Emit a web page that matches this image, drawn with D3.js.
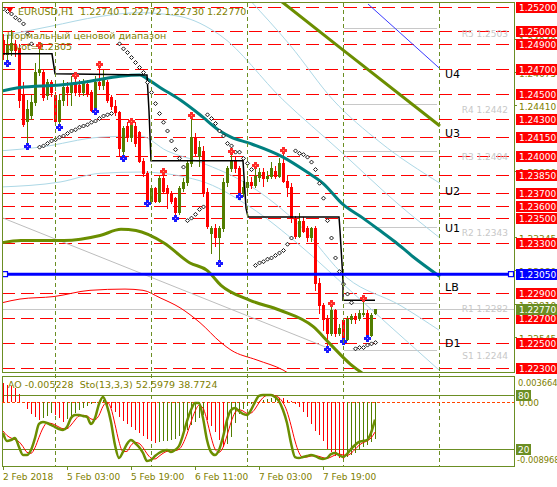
<!DOCTYPE html>
<html><head><meta charset="utf-8">
<script src="https://cdn.jsdelivr.net/npm/d3@7/dist/d3.min.js"></script>
<style>html,body{margin:0;padding:0;background:#fff;overflow:hidden}</style>
</head><body>
<script>
// ---------- DATA ----------
const opens=[
1.2493,1.2482,1.2485,1.2490,1.2487,1.2449,1.2428,1.2433,1.2443,1.2467,
1.2467,1.2449,1.2459,1.2449,1.2428,1.2445,1.2455,1.2451,1.2459,1.2457,
1.2451,1.2458,1.2451,1.2437,1.2459,1.2457,1.2459,1.2447,1.2440,1.2435,
1.2404,1.2424,1.2415,1.2424,1.2419,1.2396,1.2386,1.2364,1.2374,1.2364,
1.2382,1.2374,1.2370,1.2366,1.2355,1.2374,1.2379,1.2394,1.2415,1.2400,
1.2404,1.2371,1.2338,1.2342,1.2335,1.2342,1.2379,1.2390,1.2397,1.2390,
1.2370,1.2375,1.2379,1.2377,1.2383,1.2387,1.2382,1.2384,1.2388,1.2384,
1.2394,1.2380,1.2375,1.2350,1.2336,1.2348,1.2342,1.2335,1.2342,1.2298,
1.2280,1.2269,1.2258,1.2276,1.2258,1.2268,1.2253,1.2269,1.2271,1.2270,
1.2273,1.2274,1.2256,1.22740];
const highs=[
1.2498,1.2497,1.2501,1.2493,1.2490,1.2459,1.2445,1.2449,1.2475,1.2489,
1.2470,1.2462,1.2461,1.2451,1.2449,1.2461,1.2459,1.2464,1.2465,1.2461,
1.2462,1.2461,1.2453,1.2464,1.2474,1.2469,1.2461,1.2449,1.2445,1.2436,
1.2424,1.2427,1.2428,1.2427,1.2420,1.2398,1.2388,1.2376,1.2375,1.2384,
1.2388,1.2377,1.2372,1.2367,1.2376,1.2382,1.2396,1.2433,1.2418,1.2412,
1.2408,1.2374,1.2344,1.2345,1.2344,1.2382,1.2392,1.2404,1.2400,1.2392,
1.2380,1.2384,1.2383,1.2393,1.2390,1.2390,1.2388,1.2395,1.2392,1.2398,
1.2405,1.2384,1.2378,1.2352,1.2354,1.2351,1.2344,1.2343,1.2344,1.2302,
1.2282,1.2272,1.2282,1.2277,1.2265,1.2270,1.2271,1.2273,1.2274,1.2276,
1.2286,1.2276,1.2274,1.22772];
const lows=[
1.2478,1.2475,1.2481,1.2480,1.2439,1.2424,1.2408,1.2430,1.2441,1.2465,
1.2445,1.2446,1.2448,1.2427,1.2423,1.2441,1.2441,1.2441,1.2449,1.2448,
1.2449,1.2448,1.2436,1.2436,1.2454,1.2454,1.2443,1.2438,1.2433,1.2400,
1.2398,1.2412,1.2412,1.2408,1.2395,1.2384,1.2362,1.2362,1.2363,1.2363,
1.2370,1.2358,1.2362,1.2350,1.2353,1.2372,1.2377,1.2392,1.2400,1.2392,
1.2368,1.2342,1.2322,1.2328,1.2314,1.2340,1.2376,1.2388,1.2387,1.2368,
1.2368,1.2372,1.2374,1.2375,1.2380,1.2376,1.2380,1.2382,1.2382,1.2383,
1.2379,1.2368,1.2347,1.2334,1.2335,1.2339,1.2332,1.2332,1.2292,1.2274,
1.2260,1.2245,1.2256,1.2255,1.2256,1.2251,1.2252,1.2266,1.2266,1.2268,
1.2271,1.2254,1.2255,1.22730];
const closes=[
1.2482,1.2489,1.2491,1.2485,1.2445,1.2426,1.2438,1.2443,1.2467,1.2470,
1.2447,1.2459,1.2451,1.2428,1.2445,1.2455,1.2451,1.2457,1.2451,1.2451,
1.2459,1.2450,1.2437,1.2459,1.2457,1.2461,1.2445,1.2440,1.2435,1.2406,
1.2422,1.2415,1.2427,1.2410,1.2396,1.2386,1.2364,1.2374,1.2364,1.2382,
1.2372,1.2370,1.2364,1.2355,1.2374,1.2379,1.2394,1.2415,1.2402,1.2407,
1.2371,1.2344,1.2342,1.2335,1.2342,1.2379,1.2390,1.2397,1.2390,1.2370,
1.2375,1.2379,1.2377,1.2384,1.2387,1.2382,1.2384,1.2390,1.2384,1.2394,
1.2380,1.2375,1.2350,1.2336,1.2348,1.2340,1.2335,1.2342,1.2298,1.2280,
1.2269,1.2258,1.2276,1.2258,1.2262,1.2253,1.2269,1.2271,1.2269,1.2274,
1.2274,1.2256,1.2272,1.22770];
const upFractals=[9,18,24,32,40,47,57,63,70,82,90];
const downFractals=[1,6,14,23,30,36,43,54,59,81,85,91];
const sar=[
1.2518,1.2516,1.2514,1.2511,1.2509,1.2506,1.2498,1.2490,null,1.2407,
1.2408,1.2410,1.2412,1.2413,1.2415,1.2416,1.2418,1.2420,1.2421,1.2423,
1.2424,1.2425,1.2427,1.2428,1.2430,1.2432,1.2433,1.2434,null,1.2490,
1.2486,1.2483,1.2479,1.2475,1.2471,1.2467,1.2459,1.2451,1.2442,1.2434,
1.2427,1.2420,1.2412,1.2405,1.2398,1.2391,1.2348,1.2350,1.2353,1.2357,
1.2359,1.2433,1.2430,1.2426,1.2420,1.2416,1.2410,1.2408,1.2403,1.2403,
1.2398,1.2394,1.2389,1.2312,1.2314,1.2315,1.2317,1.2318,1.2320,1.2322,
1.2324,1.2329,1.2334,1.2404,1.2402,1.2401,1.2399,1.2395,1.2389,1.2378,
1.2366,1.2348,1.2334,1.2318,1.2307,1.2297,1.2289,1.2282,1.2245,1.2246,
1.2246,1.2248,1.2249,1.2250];
const ao=[
0.00266,0.00238,0.00224,0.00196,0.00112,0.00000,-0.00098,-0.00168,-0.00210,-0.00252,
-0.00224,-0.00196,-0.00154,-0.00182,-0.00224,-0.00280,-0.00238,-0.00196,-0.00154,-0.00112,
-0.00084,-0.00056,-0.00028,-0.00014,0.00014,0.00028,-0.00042,-0.00084,-0.00140,-0.00210,
-0.00266,-0.00308,-0.00350,-0.00392,-0.00434,-0.00476,-0.00518,-0.00546,-0.00574,-0.00560,
-0.00546,-0.00539,-0.00532,-0.00518,-0.00476,-0.00434,-0.00392,-0.00322,-0.00280,-0.00224,
-0.00182,-0.00252,-0.00336,-0.00420,-0.00532,-0.00630,-0.00588,-0.00490,-0.00294,-0.00168,
-0.00098,-0.00056,-0.00028,0.00000,0.00014,0.00028,0.00042,0.00056,0.00070,0.00063,
0.00056,0.00028,0.00014,-0.00028,-0.00070,-0.00140,-0.00210,-0.00308,-0.00406,-0.00462,
-0.00546,-0.00658,-0.00700,-0.00757,-0.00785,-0.00799,-0.00771,-0.00743,-0.00715,-0.00673,
-0.00630,-0.00602,-0.00560,-0.005228];
const stochMain=[
37.8,28.9,30.0,32.2,22.2,13.3,13.3,18.9,32.2,47.8,
50.0,48.9,46.7,44.4,42.2,41.1,44.4,54.4,57.8,57.8,
56.7,55.6,47.8,54.4,70.0,77.8,67.8,50.0,24.4,10.0,
16.7,25.6,30.0,26.7,22.2,15.6,6.7,7.8,12.2,15.6,
17.8,18.9,16.7,18.9,23.3,35.6,51.1,63.3,71.1,71.1,
54.4,30.0,16.7,13.3,18.9,33.3,52.2,63.3,65.6,62.2,
58.9,57.8,63.3,72.2,78.9,80.0,80.0,80.0,77.8,73.3,
63.3,48.9,26.7,11.1,10.0,11.1,12.2,13.3,12.2,10.0,
8.9,10.0,14.4,15.6,13.3,11.1,14.4,20.0,24.4,27.8,
28.9,30.0,37.8,52.5979];
const stochSignal=[
40.0,35.0,32.2,30.4,28.1,22.6,16.3,15.2,21.5,33.0,
43.3,48.9,48.5,46.7,44.4,42.6,42.6,46.6,52.2,56.7,
57.4,56.7,53.4,52.6,57.4,67.4,71.9,65.2,47.4,28.1,
17.0,17.4,24.1,27.4,26.3,21.5,14.8,10.0,8.9,11.9,
15.2,17.4,17.8,18.2,19.6,25.9,36.7,50.0,61.8,68.5,
65.5,51.8,33.7,20.0,16.3,21.8,34.8,49.6,60.4,63.7,
62.2,59.6,60.0,64.4,71.5,77.0,79.6,80.0,79.3,77.0,
71.5,61.8,46.3,28.9,15.9,10.7,11.1,12.2,12.6,11.8,
10.4,9.6,11.1,13.3,14.4,13.3,12.9,15.2,19.6,24.1,
27.0,28.9,32.2,38.7724];
const levels=[1.2520,1.2500,1.2490,1.2470,1.2450,1.2430,1.2415,1.2400,1.2385,1.2370,1.2360,1.2350,1.2330,1.2290,1.2270,1.2250,1.2230];
const axisTicks=[1.24940,1.24675,1.24410,1.23880,1.23345,1.23080,1.22810,1.22545];
const pivots=[["R5",1.2503],["R4",1.2442],["R3",1.2404],["R2",1.2343],["R1",1.2282],["S1",1.2244]];
const zoneLabels=[["U4",1.2466],["U3",1.2418],["U2",1.2372],["U1",1.2342],["LB",1.2295],["D1",1.2250]];
const pivotPrice=1.2305;
const bidPrice=1.2277;
const dateTicks=[[0,"2 Feb 2018"],[16,"5 Feb 03:00"],[32,"5 Feb 19:00"],[48,"6 Feb 11:00"],[64,"7 Feb 03:00"],[80,"7 Feb 19:00"]];
const daySeparators=[13,37,61,85,109];
const aoMax=0.003664, aoMin=-0.008968;
const stLevels=[80,20];
// indicator lines: [bar index, price]
const maTeal=[[-0.25,1.2452],[4.25,1.2455],[14.25,1.2457],[21.75,1.2460],[29.25,1.2464],[34.25,1.2465],[36,1.2462],[39.25,1.2455],[44.25,1.2445],[49.25,1.2433],[54.25,1.2420],[57,1.2415],[61.75,1.2410],[70,1.2399],[76,1.2387],[80,1.2378],[85,1.2361],[90,1.2350],[94.25,1.2340],[98,1.2331],[102.5,1.2319],[109.25,1.2303]];
const maOlive=[[-0.75,1.2330],[4.5,1.2332],[15.25,1.2332],[24.25,1.2336],[29.5,1.2341],[33.25,1.2340],[40.25,1.2330],[46.75,1.2314],[51,1.2308],[54.5,1.2296],[61.75,1.2284],[69.25,1.2276],[77.5,1.2263],[81.75,1.2249],[86.75,1.2233],[90,1.2225],[93,1.2218]];
const maRed=[[-0.25,1.2282],[4.25,1.2285],[12.75,1.2287],[21.75,1.2292],[30.5,1.2293],[35,1.2292],[39.25,1.2286],[44.25,1.2278],[49.25,1.2266],[54.5,1.2250],[57,1.2244],[63.5,1.2236],[70,1.2228],[73,1.2222]];
const grayLine=[[-0.75,1.2351],[81.75,1.2245]];
const oliveTR=[[69.25,1.2525],[84.25,1.2487],[109.25,1.2424]];
const blueTR=[[91.25,1.2522],[109.25,1.2470]];
const lbA=[[-0.75,1.2496],[11.75,1.2504],[24.25,1.2512],[34.25,1.2515],[44.25,1.2512],[54.25,1.2497],[70,1.2445],[84.25,1.2404],[99.25,1.2360],[109.25,1.2334]];
const lbC=[[61.75,1.2525],[71.75,1.2489],[82.5,1.2445],[94.25,1.2411],[109.25,1.2378]];
const lbQ=[[-0.75,1.2404],[9.25,1.2407],[24.25,1.2415],[34.25,1.2416],[41,1.2404],[49.25,1.2395],[61.75,1.2376],[74.25,1.2344],[86,1.2302],[99.25,1.2280],[109,1.2260]];
const lbP=[[-0.75,1.2375],[14.25,1.2379],[24.25,1.2386],[34.25,1.2387],[49.25,1.2380],[61.75,1.2359],[74.25,1.2328],[86.75,1.2292],[99.25,1.2256],[109,1.2228]];
const stepLine=[[-0.25,1.2482],[12.25,1.2482],[13,1.2466],[36,1.2465],[36.5,1.2436],[37,1.2396],[60,1.2396],[60.75,1.2358],[61.25,1.2351],[84,1.2351],[84.25,1.2340],[85,1.2300],[85,1.2284],[93,1.2284]];

// ---------- DRAW ----------
const OL="#6b8e23", TXT="#808000", GREEN="#527d00", RED="#ff0000";
const FONT="DejaVu Sans, sans-serif";
const svg=d3.select("body").append("svg").attr("width",557).attr("height",487)
  .style("font-family",FONT).style("display","block");
const x=d3.scaleLinear().domain([0,93]).range([3,375]);
const y=d3.scaleLinear().domain([1.2230,1.2520]).range([367.5,6.5]);
const yAO=d3.scaleLinear().domain([aoMin,aoMax]).range([466,376]);
const ySt=d3.scaleLinear().domain([0,100]).range([467,377]);
const px=v=>Math.round(v)+0.5;

const defs=svg.append("defs");
defs.append("clipPath").attr("id","cm").append("rect").attr("x",2).attr("y",2).attr("width",512).attr("height",370);
defs.append("clipPath").attr("id","cp").append("rect").attr("x",2).attr("y",376).attr("width",512).attr("height",90);

const gm=svg.append("g").attr("clip-path","url(#cm)");
gm.selectAll("line.lv").data(levels).join("line").attr("class","lv")
  .attr("x1",2).attr("x2",514).attr("y1",d=>px(y(d))).attr("y2",d=>px(y(d)))
  .attr("stroke",RED).attr("stroke-dasharray","13,6").attr("shape-rendering","crispEdges");
svg.selectAll("line.ds").data(daySeparators).join("line").attr("class","ds")
  .attr("x1",d=>px(x(d))).attr("x2",d=>px(x(d))).attr("y1",3).attr("y2",466)
  .attr("stroke",OL).attr("stroke-dasharray","4,3").attr("shape-rendering","crispEdges");
gm.selectAll("line.pv").data(pivots).join("line").attr("class","pv")
  .attr("x1",px(x(85))).attr("x2",437).attr("y1",d=>px(y(d[1]))).attr("y2",d=>px(y(d[1])))
  .attr("stroke","#c8c8c8").attr("shape-rendering","crispEdges");
gm.selectAll("text.pv").data(pivots).join("text").attr("class","pv")
  .attr("x",508).attr("y",d=>y(d[1])+9).attr("text-anchor","end")
  .attr("font-size","9px").attr("fill","#c8c8c8").text(d=>d[0]+" "+d[1].toFixed(4));
gm.append("line").attr("x1",2).attr("x2",514).attr("y1",px(y(bidPrice))).attr("y2",px(y(bidPrice)))
  .attr("stroke","#c8c8c8").attr("shape-rendering","crispEdges");

const line=d3.line().x(d=>x(d[0])).y(d=>y(d[1])).curve(d3.curveMonotoneX);
const lineL=d3.line().x(d=>x(d[0])).y(d=>y(d[1]));
[lbA,lbC,lbQ,lbP].forEach(l=>gm.append("path").attr("d",line(l)).attr("fill","none").attr("stroke","#add8e6").attr("stroke-width",1));
gm.append("path").attr("d",lineL(grayLine)).attr("fill","none").attr("stroke","#bdbdbd");

const gc=gm.append("g").attr("shape-rendering","crispEdges");
d3.range(opens.length).forEach(i=>{
  const up=closes[i]>=opens[i], col=up?GREEN:RED, cx=Math.round(x(i));
  gc.append("line").attr("x1",cx+0.5).attr("x2",cx+0.5).attr("y1",Math.round(y(highs[i]))).attr("y2",Math.round(y(lows[i]))+1).attr("stroke",col);
  const t=Math.round(y(Math.max(opens[i],closes[i]))), b=Math.round(y(Math.min(opens[i],closes[i])));
  gc.append("rect").attr("x",cx-1).attr("y",t).attr("width",3).attr("height",Math.max(1,b-t+1)).attr("fill",col);
});

gm.append("path").attr("d",line(maRed)).attr("fill","none").attr("stroke",RED).attr("stroke-width",1);
gm.append("path").attr("d",line(maOlive)).attr("fill","none").attr("stroke","#6b8e00").attr("stroke-width",3);
gm.append("path").attr("d",line(maTeal)).attr("fill","none").attr("stroke","#008080").attr("stroke-width",3);
gm.append("path").attr("d",line(oliveTR)).attr("fill","none").attr("stroke","#6b8e00").attr("stroke-width",3);
gm.append("path").attr("d",lineL(blueTR)).attr("fill","none").attr("stroke","#3a3aff").attr("stroke-width",1);
gm.append("path").attr("d",lineL(stepLine)).attr("fill","none").attr("stroke","#000").attr("stroke-width",1.5);

gm.selectAll("path.sar").data(sar.map((v,i)=>[i,v]).filter(d=>d[1]!==null)).join("path").attr("class","sar")
  .attr("transform",d=>`translate(${x(d[0])+0.5},${y(d[1])})`)
  .attr("d","M0,-2L2,0L0,2L-2,0Z").attr("fill","#fff").attr("stroke","#000").attr("stroke-width",0.9);

function star(g,cx,cy,c1,c2){
  g.append("rect").attr("x",cx-3).attr("y",cy-1).attr("width",7).attr("height",3).attr("fill",c1);
  g.append("rect").attr("x",cx-1).attr("y",cy-3).attr("width",3).attr("height",7).attr("fill",c1);
  g.append("rect").attr("x",cx).attr("y",cy).attr("width",1).attr("height",1).attr("fill",c2);
}
const gf=gm.append("g").attr("shape-rendering","crispEdges");
upFractals.forEach(i=>star(gf,Math.round(x(i)),Math.round(y(highs[i])),"#ff2a2a","#ffb060"));
downFractals.forEach(i=>star(gf,Math.round(x(i)),Math.round(y(lows[i])),"#1a1aff","#ff80ff"));

gm.append("line").attr("x1",2).attr("x2",514).attr("y1",y(pivotPrice)).attr("y2",y(pivotPrice)).attr("stroke","#0000ff").attr("stroke-width",3);
[5,511].forEach(cx=>gm.append("rect").attr("x",cx-2.5).attr("y",y(pivotPrice)-2.5).attr("width",5).attr("height",5).attr("fill","#fff").attr("stroke","#0000ff").attr("stroke-width",1.2));

gm.selectAll("text.zl").data(zoneLabels).join("text").attr("class","zl")
  .attr("x",445).attr("y",d=>y(d[1])+4).attr("font-size","11px").attr("fill","#000").text(d=>d[0]);

svg.append("path").attr("d","M7,8L13,8L10,13Z").attr("fill",RED);
svg.append("text").attr("x",18).attr("y",15).attr("font-size","9.5px").attr("fill",TXT).style("white-space","pre")
  .text(`EURUSD,H1  ${opens[93].toFixed(5)} ${highs[93].toFixed(5)} ${lows[93].toFixed(5)} ${closes[93].toFixed(5)}`);
svg.append("text").attr("x",7).attr("y",39).attr("font-size","9.5px").attr("fill",TXT).text("Нормальный ценовой диапазон");
svg.append("text").attr("x",7).attr("y",50).attr("font-size","9.5px").attr("fill",TXT).text("pivot="+pivotPrice.toFixed(4));

const gb=svg.append("g").attr("shape-rendering","crispEdges").attr("fill","none").attr("stroke",OL);
gb.append("rect").attr("x",2.5).attr("y",2.5).attr("width",511.5).attr("height",369.5);
gb.append("rect").attr("x",2.5).attr("y",376.5).attr("width",511.5).attr("height",89.5);

const ga=svg.append("g").attr("font-size","9px");
ga.selectAll("text.at").data(axisTicks).join("text").attr("class","at")
  .attr("x",519).attr("y",d=>y(d)+5).attr("fill",TXT).text(d=>d.toFixed(5));
ga.selectAll("line.at").data(axisTicks).join("line").attr("class","at")
  .attr("x1",514).attr("x2",517).attr("y1",d=>px(y(d))).attr("y2",d=>px(y(d))).attr("stroke",OL).attr("shape-rendering","crispEdges");
function box(v,fill){
  const yy=Math.round(y(v));
  ga.append("rect").attr("x",516).attr("y",yy-5).attr("width",41).attr("height",11).attr("fill",fill);
  ga.append("text").attr("x",519).attr("y",yy+4).attr("fill","#fff").text(v.toFixed(5));
}
levels.forEach(v=>box(v,RED));
box(pivotPrice,"#0000ff");
box(bidPrice,"#6b8e23");

const gp=svg.append("g").attr("clip-path","url(#cp)");
gp.append("line").attr("x1",2).attr("x2",514).attr("y1",px(yAO(0))).attr("y2",px(yAO(0)))
  .attr("stroke","#ff4500").attr("stroke-dasharray","3,2").attr("shape-rendering","crispEdges");
stLevels.forEach(v=>gp.append("line").attr("x1",2).attr("x2",514).attr("y1",px(ySt(v))).attr("y2",px(ySt(v))).attr("stroke",OL).attr("shape-rendering","crispEdges"));
ao.forEach((v,i)=>{
  const col=(i>0&&v>ao[i-1])?GREEN:RED;
  gp.append("line").attr("x1",px(x(i))).attr("x2",px(x(i))).attr("y1",yAO(0)).attr("y2",yAO(v)).attr("stroke",col).attr("shape-rendering","crispEdges");
});
const sl=d3.line().x((d,i)=>x(i)).y(d=>ySt(d)).curve(d3.curveMonotoneX);
gp.append("path").attr("d",sl(stochSignal)).attr("fill","none").attr("stroke",RED).attr("stroke-width",1);
gp.append("path").attr("d",sl(stochMain)).attr("fill","none").attr("stroke","#6b8e00").attr("stroke-width",2.5);
svg.append("text").attr("x",8).attr("y",388).attr("font-size","9.5px").attr("fill",TXT).style("white-space","pre")
  .text(`AO ${ao[93].toFixed(6)}  Sto(13,3,3) ${stochMain[93].toFixed(4)} ${stochSignal[93].toFixed(4)}`);
ga.append("text").attr("x",518).attr("y",yAO(aoMax)+10).attr("font-size","8.3px").attr("fill",TXT).text(aoMax.toFixed(6));
ga.append("text").attr("x",519).attr("y",yAO(0)+4).attr("fill",TXT).text("0.00");
stLevels.forEach(v=>{
  ga.append("rect").attr("x",516).attr("y",Math.round(ySt(v))-5).attr("width",15).attr("height",11).attr("fill",OL);
  ga.append("text").attr("x",518).attr("y",Math.round(ySt(v))+4).attr("fill","#fff").text(v);
});
ga.append("text").attr("x",517).attr("y",yAO(aoMin)-3).attr("font-size","8.3px").attr("fill",TXT).text(aoMin.toFixed(6));

const gd=svg.append("g").attr("font-size","9px").attr("fill",TXT);
dateTicks.forEach(d=>{
  gd.append("text").attr("x",x(d[0])).attr("y",480).text(d[1]);
  svg.append("line").attr("x1",px(x(d[0]))).attr("x2",px(x(d[0]))).attr("y1",466).attr("y2",470).attr("stroke",OL).attr("shape-rendering","crispEdges");
});
</script>
</body></html>
